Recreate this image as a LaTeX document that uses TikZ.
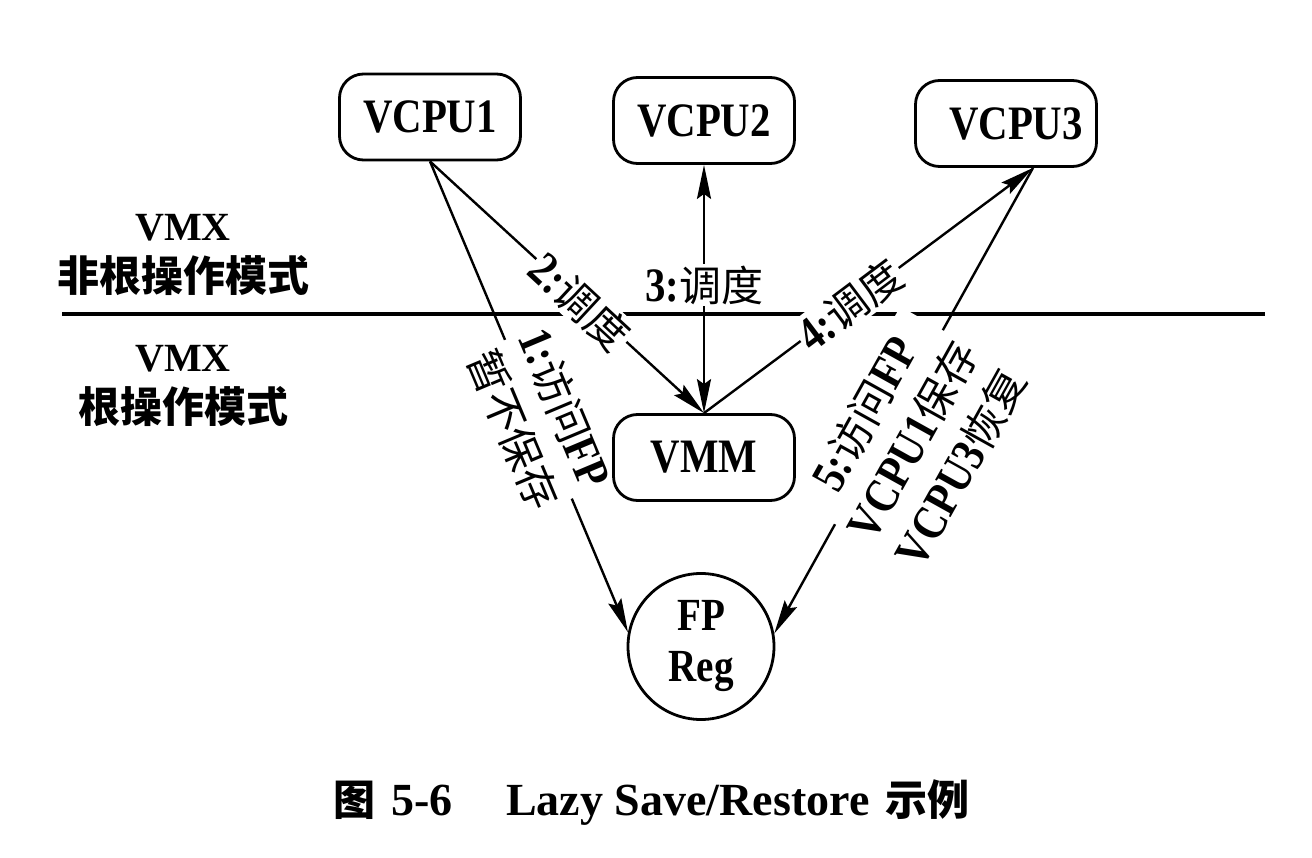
\documentclass[tikz,border=0pt]{standalone}
\usepackage{fontspec}
\setmainfont{Liberation Serif}
\newfontfamily\lat[FakeStretch=0.85]{Liberation Serif}
\newfontfamily\cjk{Noto Sans CJK SC}
\usetikzlibrary{arrows.meta,calc}
\pgfdeclarelayer{bg}
\pgfdeclarelayer{mid}
\pgfsetlayers{bg,mid,main}
\newcommand\zh[1]{{\cjk\mdseries\fontsize{42}{55}\selectfont #1}}
\newcommand\zhb[1]{{\cjk\bfseries\fontsize{42}{55}\selectfont #1}}
\begin{document}
\begin{tikzpicture}[x=1pt,y=-1pt,
  box/.style={draw,line width=2.8pt,rounded corners=24pt,minimum width=181pt,minimum height=86pt,inner sep=0pt,font=\lat\bfseries\fontsize{48}{55}\selectfont},
  mytip/.tip={Stealth[length=34pt,width=14pt,inset=5pt]},
  arr/.style={line width=2.4pt,-mytip},
  dbl/.style={line width=2.4pt,mytip-mytip},
  lab/.style={fill=white,inner sep=2pt,align=center,font=\lat\bfseries\fontsize{48}{55}\selectfont},
  sidelab/.style={align=center,font=\bfseries\fontsize{40}{51}\selectfont},
  captxt/.style={anchor=base west,inner sep=0pt,font=\bfseries\fontsize{46}{50}\selectfont},
]
\useasboundingbox (0,0) rectangle (1312,858);
% main nodes
\node[box] (vcpu1) at (430,117) {VCPU1};
\node[box] (vcpu2) at (704,120.5) {VCPU2};
\node[box] (vcpu3) at (1006,123.5) {\hspace{20pt}VCPU3};
\node[box] (vmm) at (704,457.5) {VMM};
\node[draw,circle,line width=2.8pt,minimum size=146pt,inner sep=0pt,align=center,
      font=\lat\bfseries\fontsize{46}{51}\selectfont] (fp) at (701,646.5) {FP\\Reg};
\coordinate (v3p) at ($(vcpu3.south)+(27,0)$);
% side labels
\node[sidelab] (nonroot) at (183,255) {VMX\\\zhb{非根操作模式}};
\node[sidelab] (root) at (183,386) {VMX\\\zhb{根操作模式}};
% caption
\node[captxt] (capnum) at (333,815) {\zhb{图}\hspace{16pt}5-6};
\node[captxt] (captext) at (506,815) {Lazy Save/Restore\hspace{16pt}\zhb{示例}};
% separator and connectors
\begin{pgfonlayer}{bg}
\coordinate (sepL) at (62,314);
\coordinate (sepR) at (1265,314);
\draw[line width=4pt] (sepL) -- (sepR);
\draw[arr] (vcpu1.south) -- (fp.169.5);
\draw[arr] (vcpu1.south) -- (vmm.north);
\draw[dbl] (vmm.north) -- (vcpu2.south);
\draw[arr] (vmm.north) -- (v3p);
\draw[arr] (v3p) -- (fp.10.5);
\end{pgfonlayer}
% connector labels
\begin{pgfonlayer}{mid}
\node[lab,rotate=-67.2] (l1) at (539,419) {1:\zh{访问}FP\\\zh{暂不保存}};
\node[lab,rotate=-42.8] (l2) at (580,302) {2:\zh{调度}};
\node[lab] (l3) at (704,285) {3:\zh{调度}};
\node[lab,rotate=36.96] (l4) at (850,305) {4:\zh{调度}};
\node[lab,rotate=60.9] (l5) at (913,440.6) {5:\zh{访问}FP\\VCPU1\zh{保存}\\VCPU3\zh{恢复}};
\end{pgfonlayer}
\end{tikzpicture}
\end{document}
